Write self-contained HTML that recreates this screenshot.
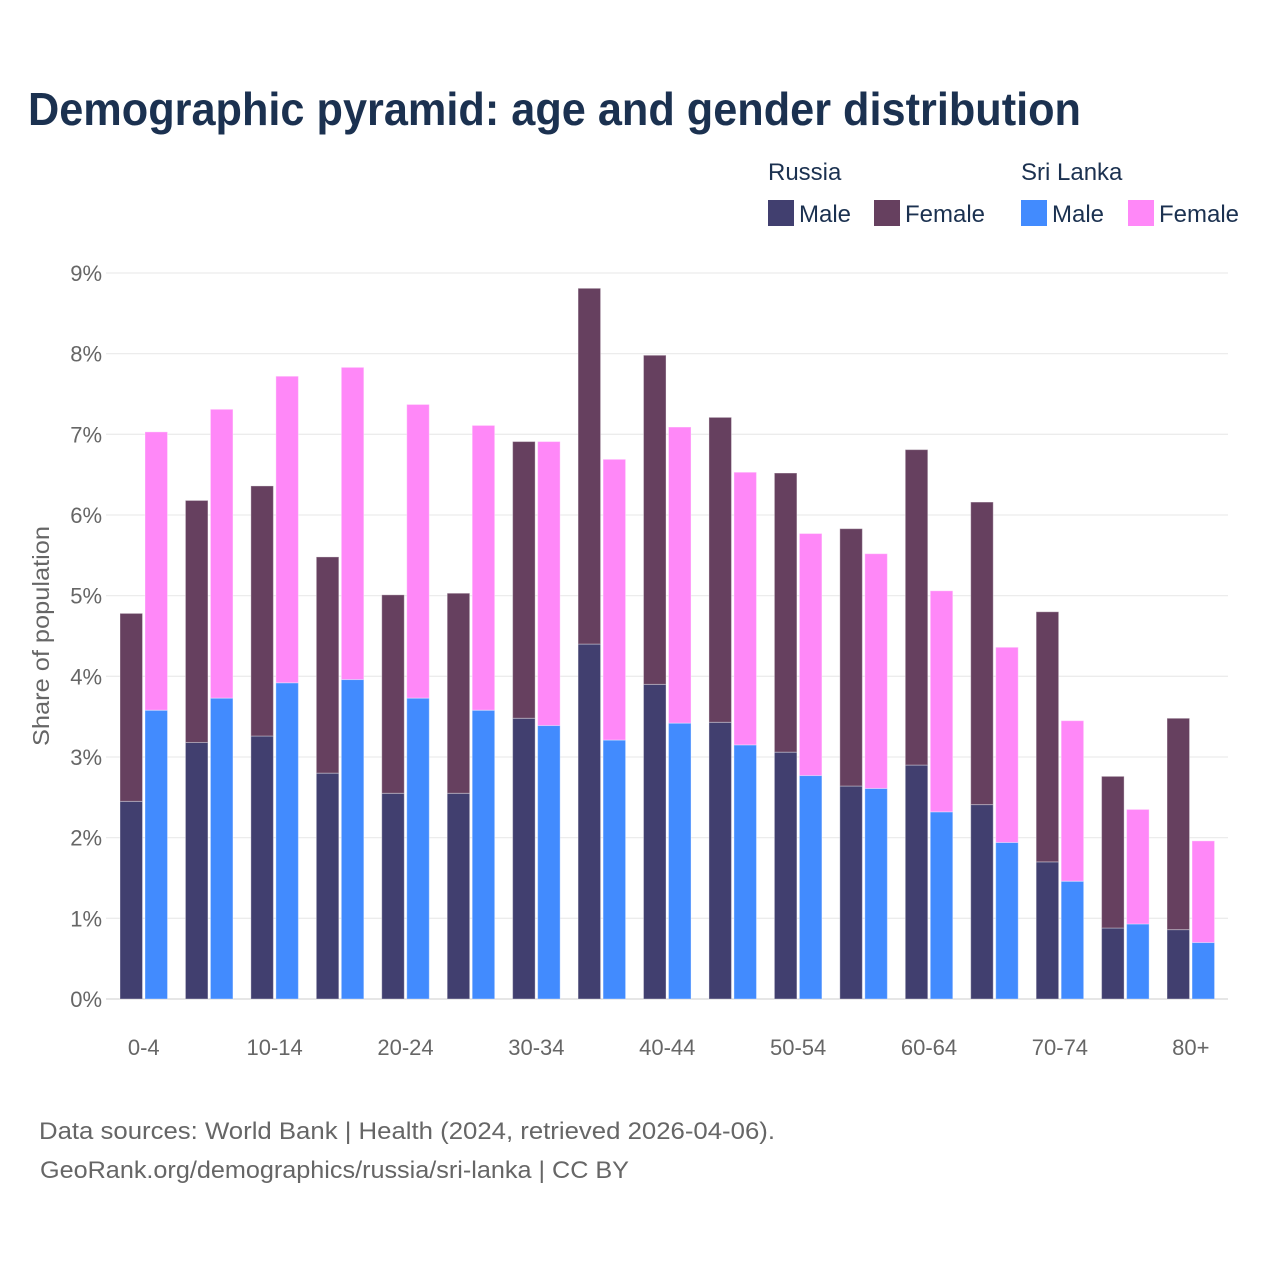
<!DOCTYPE html>
<html><head><meta charset="utf-8"><style>
body{margin:0;background:#fff;}
svg text{font-family:"Liberation Sans",sans-serif;}
</style></head><body>
<svg id="chart" width="1280" height="1280" viewBox="0 0 1280 1280" xmlns="http://www.w3.org/2000/svg">
<rect width="1280" height="1280" fill="#fff"/>
<text x="28" y="125" font-size="46" font-weight="bold" fill="#1b3150" textLength="1053" lengthAdjust="spacingAndGlyphs">Demographic pyramid: age and gender distribution</text>
<g font-size="24" fill="#1b3150">
<text x="768" y="180">Russia</text>
<text x="1021" y="180">Sri Lanka</text>
<g><rect x="768" y="200" width="26" height="26" fill="#413f6f"/><text x="799" y="222">Male</text></g>
<g><rect x="874" y="200" width="26" height="26" fill="#66405f"/><text x="905" y="222">Female</text></g>
<g><rect x="1021" y="200" width="26" height="26" fill="#428bfe"/><text x="1052" y="222">Male</text></g>
<g><rect x="1128" y="200" width="26" height="26" fill="#ff88f8"/><text x="1159" y="222">Female</text></g>
</g>
<g id="grid"></g>
<g id="bars"></g>
<g id="xaxis"></g>
<text transform="translate(49,636) rotate(-90)" text-anchor="middle" font-size="23" fill="#666" textLength="220" lengthAdjust="spacingAndGlyphs">Share of population</text>
<text x="39" y="1139" font-size="24" fill="#666" textLength="736" lengthAdjust="spacingAndGlyphs">Data sources: World Bank | Health (2024, retrieved 2026-04-06).</text>
<text x="40" y="1178" font-size="24" fill="#666" textLength="589" lengthAdjust="spacingAndGlyphs">GeoRank.org/demographics/russia/sri-lanka | CC BY</text>
</svg>
<script>
const categories=["0-4","5-9","10-14","15-19","20-24","25-29","30-34","35-39","40-44","45-49","50-54","55-59","60-64","65-69","70-74","75-79","80+"];
const russiaMale=[2.45,3.18,3.26,2.80,2.55,2.55,3.48,4.40,3.90,3.43,3.06,2.64,2.90,2.41,1.70,0.88,0.86];
const russiaFemale=[2.33,3.00,3.10,2.68,2.46,2.48,3.43,4.41,4.08,3.78,3.46,3.19,3.91,3.75,3.10,1.88,2.62];
const lankaMale=[3.58,3.73,3.92,3.96,3.73,3.58,3.39,3.21,3.42,3.15,2.77,2.61,2.32,1.94,1.46,0.93,0.70];
const lankaFemale=[3.45,3.58,3.80,3.87,3.64,3.53,3.52,3.48,3.67,3.38,3.00,2.91,2.74,2.42,1.99,1.42,1.26];
const yTicks=[0,1,2,3,4,5,6,7,8,9];
const xLabelIdx=[0,2,4,6,8,10,12,14,16];

const NS="http://www.w3.org/2000/svg";
const y0=999, pxPer=80.67, gx0=120, step=65.44, bw=22.5, gap=2.5;
const yS=v=>y0-v*pxPer;
const gX=i=>gx0+i*step;
function mk(tag,attrs,parent){const e=document.createElementNS(NS,tag);for(const k in attrs)e.setAttribute(k,attrs[k]);parent.appendChild(e);return e;}
const grid=document.getElementById('grid'),bars=document.getElementById('bars'),xa=document.getElementById('xaxis');
yTicks.forEach(t=>{
  const l=mk('line',{x1:106,x2:1228,y1:yS(t),y2:yS(t),stroke:t===0?'#e6e6e6':'#ececec','stroke-width':t===0?2:1.3},grid);
  
  
  const tx=mk('text',{x:102,y:yS(t)+8,'text-anchor':'end','font-size':22,fill:'#666'},grid);
  tx.textContent=t+'%';
  
  
});
const series=[[russiaMale,'#413f6f',0,0,'russia-male'],[russiaFemale,'#66405f',0,1,'russia-female'],[lankaMale,'#428bfe',1,0,'sri-lanka-male'],[lankaFemale,'#ff88f8',1,1,'sri-lanka-female']];
categories.forEach((c,i)=>{
  series.forEach(([arr,col,side,stack,nm])=>{
    const base=stack?(side?lankaMale[i]:russiaMale[i]):0;
    const x=gX(i)+side*(bw+gap);
    const r=mk('rect',{x:x,y:yS(base+arr[i]),width:bw,height:arr[i]*pxPer,fill:col,stroke:'rgba(255,255,255,0.35)','stroke-width':1},bars);
    
    
  });
});
xLabelIdx.forEach(i=>{
  const t=mk('text',{x:gX(i)+bw+gap/2,y:1055,'text-anchor':'middle','font-size':22,fill:'#666'},xa);
  t.textContent=categories[i];
  
  
});
</script>
</body></html>
